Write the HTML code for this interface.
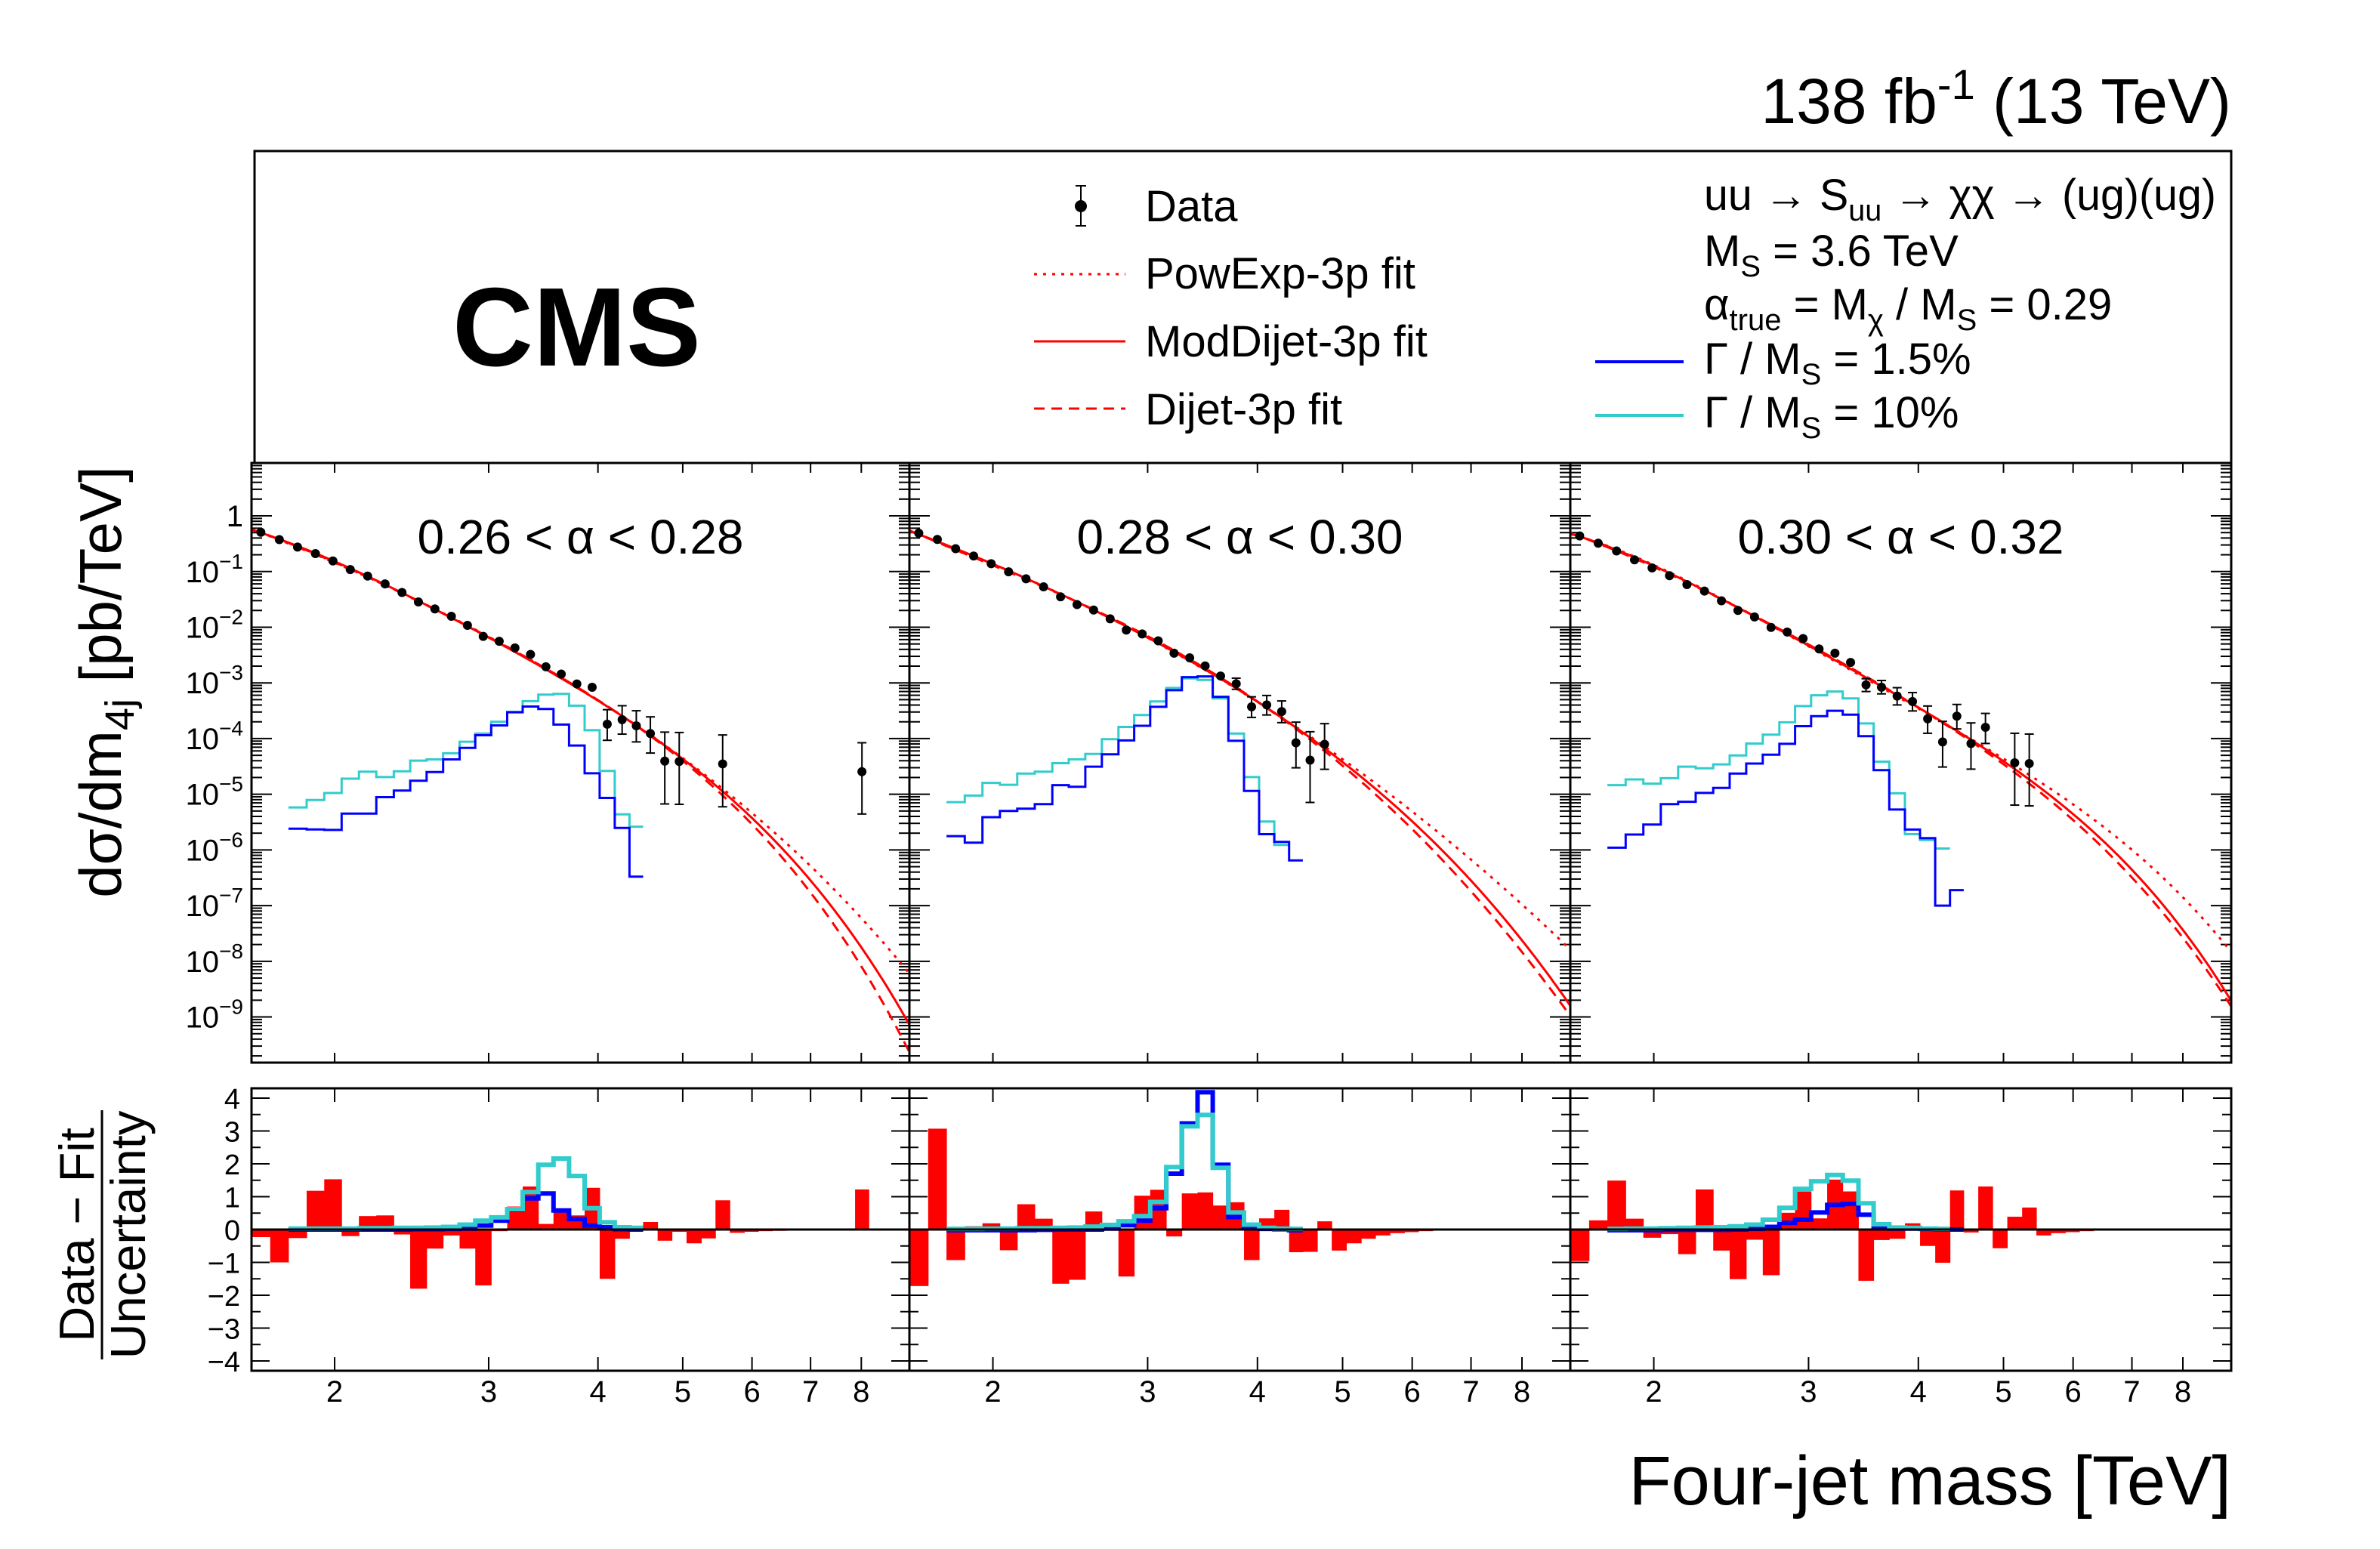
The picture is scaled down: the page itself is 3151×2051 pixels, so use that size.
<!DOCTYPE html>
<html><head><meta charset="utf-8"><style>
html,body{margin:0;padding:0;background:#fff;}
svg{display:block;font-family:"Liberation Sans",Arial,sans-serif;}
</style></head><body>
<svg id="chart" xmlns="http://www.w3.org/2000/svg" width="3151" height="2051" viewBox="0 0 3151 2051">
<rect x="0" y="0" width="3151" height="2051" fill="#fff"/>
<text x="2954" y="163" font-size="84" text-anchor="end">138 fb<tspan dy="-32" font-size="56">-1</tspan><tspan dy="32"> (13 TeV)</tspan></text>
<rect x="337" y="200" width="2617" height="413" fill="none" stroke="#000" stroke-width="3"/>
<text x="599" y="484" font-size="148" font-weight="bold">CMS</text>
<g>
<line x1="1431" y1="246" x2="1431" y2="299" stroke="#000" stroke-width="2"/>
<line x1="1424" y1="246" x2="1438" y2="246" stroke="#000" stroke-width="2"/>
<line x1="1424" y1="299" x2="1438" y2="299" stroke="#000" stroke-width="2"/>
<circle cx="1431" cy="273" r="8" fill="#000"/>
<text x="1516" y="293" font-size="58">Data</text></g>
<g>
<line x1="1369" y1="363" x2="1490" y2="363" stroke="#f00" stroke-width="3" stroke-dasharray="4 8"/>
<text x="1516" y="382" font-size="58">PowExp-3p fit</text></g>
<g>
<line x1="1369" y1="452" x2="1490" y2="452" stroke="#f00" stroke-width="3"/>
<text x="1516" y="472" font-size="58">ModDijet-3p fit</text></g>
<g>
<line x1="1369" y1="541" x2="1490" y2="541" stroke="#f00" stroke-width="3" stroke-dasharray="14 9"/>
<text x="1516" y="562" font-size="58">Dijet-3p fit</text></g>
<text x="2256" y="278" font-size="58" textLength="678" lengthAdjust="spacingAndGlyphs">uu → S<tspan dy="14" font-size="40">uu</tspan><tspan dy="-14"> → χχ → (ug)(ug)</tspan></text>
<text x="2256" y="352" font-size="58">M<tspan dy="14" font-size="40">S</tspan><tspan dy="-14"> = 3.6 TeV</tspan></text>
<text x="2256" y="423" font-size="58">α<tspan dy="14" font-size="40">true</tspan><tspan dy="-14"> = M</tspan><tspan dy="14" font-size="40">χ</tspan><tspan dy="-14"> / M</tspan><tspan dy="14" font-size="40">S</tspan><tspan dy="-14"> = 0.29</tspan></text>
<g>
<line x1="2112" y1="479" x2="2229" y2="479" stroke="#00f" stroke-width="4"/>
<text x="2256" y="495" font-size="58">Γ / M<tspan dy="14" font-size="40">S</tspan><tspan dy="-14"> = 1.5%</tspan></text></g>
<g>
<line x1="2112" y1="550" x2="2229" y2="550" stroke="#33cccc" stroke-width="4"/>
<text x="2256" y="566" font-size="58">Γ / M<tspan dy="14" font-size="40">S</tspan><tspan dy="-14"> = 10%</tspan></text></g>
<text transform="translate(160,903) rotate(-90)" font-size="78" text-anchor="middle">dσ/dm<tspan dy="17" font-size="54">4j</tspan><tspan dy="-17"> [pb/TeV]</tspan></text>
<g transform="translate(0,1635) rotate(-90)">
<text x="0" y="124" font-size="65" text-anchor="middle">Data − Fit</text>
<line x1="-165" y1="135" x2="165" y2="135" stroke="#000" stroke-width="3"/>
<text x="0" y="192" font-size="65" text-anchor="middle">Uncertainty</text></g>
<text x="2954" y="1992" font-size="92" text-anchor="end">Four-jet mass [TeV]</text>
<g id="plots"></g>
</svg>
<script>
const XMIN = 1.607, XMAX = 9.08, YMIN = -9.82, YMAX = 0.95;
const panelX = [[333,1204],[1204,2079],[2079,2954]];
const upTop = 613, upBot = 1407, loTop = 1441, loBot = 1815, loZero = 1628, loUnit = 43.5;
const alphaLabels = ["0.26 < α < 0.28", "0.28 < α < 0.30", "0.30 < α < 0.32"];
const xTickVals = [2,3,4,5,6,7,8];
const ratioTicks = [4,3,2,1,0,-1,-2,-3,-4];
const binEdges = [1.607,1.688,1.771,1.858,1.946,2.037,2.132,2.232,2.337,2.440,2.548,2.661,2.779,2.896,3.020,3.150,3.281,3.419,3.558,3.707,3.862,4.018,4.181,4.346,4.505,4.68,4.86,5.05,5.25,5.45,5.66,5.88,6.10,6.33,6.57,6.82,7.07,7.33,7.60,7.87,8.16,8.46,8.77,9.08];
const sigStart = 2;
const data1 = [-0.295,-0.427,-0.560,-0.677,-0.810,-0.965,-1.082,-1.222,-1.377,-1.546,-1.672,-1.804,-1.966,-2.165,-2.253,-2.371,-2.489,-2.710,-2.842,-3.019,-3.078,-3.741,-3.660,-3.770,-3.910,-4.404,-4.411,null,null,-4.455,null,null,null,null,null,null,null,null,null,-4.595,null,null,null];
const errUp1 = [0.01,0.01,0.01,0.01,0.01,0.01,0.01,0.01,0.01,0.02,0.02,0.02,0.02,0.03,0.03,0.03,0.04,0.05,0.06,0.07,0.08,0.26,0.25,0.27,0.30,0.52,0.52,0,0,0.52,0,0,0,0,0,0,0,0,0,0.52,0,0,0];
const errDn1 = [0.01,0.01,0.01,0.01,0.01,0.01,0.01,0.01,0.01,0.02,0.02,0.02,0.02,0.03,0.03,0.03,0.04,0.05,0.06,0.07,0.08,0.29,0.26,0.29,0.35,0.77,0.77,0,0,0.77,0,0,0,0,0,0,0,0,0,0.76,0,0,0];
const data2 = [-0.312,-0.423,-0.589,-0.721,-0.859,-1.005,-1.130,-1.275,-1.455,-1.594,-1.691,-1.850,-2.051,-2.121,-2.245,-2.467,-2.550,-2.696,-2.876,-3.015,-3.430,-3.396,-3.514,-4.075,-4.387,-4.102,null,null,null,null,null,null,null,null,null,null,null,null,null,null,null,null,null];
const errUp2 = [0.01,0.01,0.01,0.01,0.01,0.01,0.01,0.01,0.01,0.02,0.02,0.02,0.02,0.03,0.03,0.03,0.04,0.05,0.06,0.10,0.18,0.17,0.19,0.37,0.51,0.37,0,0,0,0,0,0,0,0,0,0,0,0,0,0,0,0,0];
const errDn2 = [0.01,0.01,0.01,0.01,0.01,0.01,0.01,0.01,0.01,0.02,0.02,0.02,0.02,0.03,0.03,0.03,0.04,0.05,0.06,0.10,0.19,0.18,0.20,0.45,0.76,0.45,0,0,0,0,0,0,0,0,0,0,0,0,0,0,0,0,0];
const data3 = [-0.360,-0.492,-0.631,-0.790,-0.936,-1.074,-1.234,-1.351,-1.525,-1.698,-1.816,-2.003,-2.086,-2.204,-2.391,-2.467,-2.633,-3.035,-3.077,-3.236,-3.334,-3.645,-4.061,-3.597,-4.089,-3.798,null,-4.435,-4.449,null,null,null,null,null,null,null,null,null,null,null,null,null,null];
const errUp3 = [0.01,0.01,0.01,0.01,0.01,0.01,0.01,0.01,0.01,0.02,0.02,0.02,0.02,0.03,0.03,0.04,0.05,0.11,0.12,0.15,0.16,0.23,0.37,0.21,0.37,0.25,0,0.53,0.53,0,0,0,0,0,0,0,0,0,0,0,0,0,0];
const errDn3 = [0.01,0.01,0.01,0.01,0.01,0.01,0.01,0.01,0.01,0.02,0.02,0.02,0.02,0.03,0.03,0.04,0.05,0.12,0.12,0.16,0.17,0.26,0.45,0.23,0.46,0.29,0,0.76,0.76,0,0,0,0,0,0,0,0,0,0,0,0,0,0];
const sigNarrow1 = [-5.619,-5.633,-5.641,-5.346,-5.346,-5.052,-4.934,-4.757,-4.602,-4.374,-4.168,-3.940,-3.763,-3.527,-3.424,-3.468,-3.748,-4.124,-4.624,-5.066,-5.604,-6.480];
const sigWide1 = [-5.236,-5.103,-4.978,-4.720,-4.595,-4.691,-4.588,-4.396,-4.374,-4.264,-4.057,-3.910,-3.697,-3.520,-3.328,-3.211,-3.196,-3.409,-3.851,-4.580,-5.361,-5.582];
const sigNarrow2 = [-5.752,-5.870,-5.412,-5.301,-5.260,-5.177,-4.837,-4.865,-4.504,-4.283,-4.033,-3.770,-3.430,-3.132,-2.897,-2.883,-3.250,-4.040,-4.941,-5.717,-5.856,-6.188];
const sigWide2 = [-5.142,-5.024,-4.796,-4.830,-4.629,-4.595,-4.442,-4.373,-4.276,-4.012,-3.791,-3.576,-3.334,-3.091,-2.918,-2.945,-3.278,-3.909,-4.692,-5.489,-5.911,null];
const sigNarrow3 = [-5.960,-5.724,-5.544,-5.177,-5.135,-4.976,-4.886,-4.629,-4.449,-4.290,-4.095,-3.777,-3.597,-3.500,-3.569,-3.957,-4.567,-5.274,-5.634,-5.787,-7.0,-6.722];
const sigWide3 = [-4.837,-4.733,-4.809,-4.712,-4.504,-4.532,-4.463,-4.304,-4.089,-3.929,-3.708,-3.417,-3.223,-3.154,-3.278,-3.728,-4.414,-4.983,-5.717,-5.821,-5.974,null];
const fitM1 = [1.607,2.0,2.5,3.0,3.5,4.0,4.6,4.97,5.56,6.39,7.21,8.13,9.08];
const fitSolid1 = [-0.25,-0.81,-1.56,-2.2,-2.74,-3.28,-3.92,-4.41,-4.99,-5.85,-6.74,-7.92,-9.15];
const fitDot1 = [-0.25,-0.81,-1.56,-2.2,-2.74,-3.28,-3.91,-4.38,-4.92,-5.70,-6.44,-7.40,-8.20];
const fitDash1 = [-0.25,-0.81,-1.56,-2.2,-2.74,-3.28,-3.93,-4.44,-5.03,-6.00,-6.96,-8.36,-9.60];
const fitM2 = [1.607,2.0,2.49,3.12,3.90,4.86,6.08,7.60,9.08];
const fitSolid2 = [-0.27,-0.85,-1.59,-2.32,-3.15,-4.30,-5.68,-7.07,-8.84];
const fitDot2 = [-0.27,-0.85,-1.59,-2.32,-3.15,-4.28,-5.47,-6.55,-7.83];
const fitDash2 = [-0.27,-0.85,-1.59,-2.32,-3.15,-4.32,-5.82,-7.31,-9.01];
const fitM3 = [1.607,2.0,2.49,3.12,3.90,4.86,6.08,7.60,8.79,9.08];
const fitSolid3 = [-0.30,-0.956,-1.615,-2.43,-3.36,-4.33,-5.41,-6.96,-8.39,-8.70];
const fitDot3 = [-0.30,-0.956,-1.615,-2.43,-3.36,-4.31,-5.27,-6.41,-7.59,-7.85];
const fitDash3 = [-0.30,-0.956,-1.615,-2.43,-3.36,-4.35,-5.51,-7.14,-8.49,-8.80];
const resid1 = [-0.23,-1.0,-0.26,1.18,1.53,-0.2,0.41,0.43,-0.15,-1.8,-0.58,-0.18,-0.58,-1.7,-0.05,0.7,1.31,0.17,0.55,0.43,1.27,-1.5,-0.28,-0.03,0.23,-0.34,-0.07,-0.42,-0.27,0.89,-0.1,-0.07,-0.05,-0.04,-0.03,-0.02,-0.02,-0.01,-0.01,1.22,0,0,0];
const resid2 = [-1.72,3.07,-0.93,0.1,0.19,-0.63,0.77,0.33,-1.65,-1.53,0.55,-0.02,-1.43,1.03,1.21,-0.21,1.10,1.13,0.73,0.83,-0.93,0.34,0.6,-0.69,-0.68,0.25,-0.64,-0.42,-0.28,-0.18,-0.11,-0.08,-0.05,-0.03,-0.02,-0.01,-0.01,-0.01,0,0,0,0,0];
const resid3 = [-0.96,0.28,1.49,0.33,-0.25,-0.14,-0.75,1.22,-0.64,-1.51,-0.31,-1.39,0.51,1.16,0.34,1.52,1.16,-1.56,-0.32,-0.28,0.19,-0.5,-1.01,1.19,-0.09,1.31,-0.57,0.39,0.67,-0.18,-0.11,-0.08,-0.05,-0.03,-0.02,-0.01,-0.01,0,0,0,0,0,0];
const rNarrow1 = [0,0,0,0,0,0,0,0.01,0.01,0.02,0.03,0.12,0.27,0.6,0.95,1.1,0.58,0.32,0.12,0.07,0.01,0];
const rWide1 = [0.03,0.03,0.03,0.03,0.04,0.04,0.05,0.05,0.06,0.08,0.15,0.27,0.37,0.62,1.14,1.97,2.16,1.63,0.65,0.22,0.07,0.05];
const rNarrow2 = [-0.02,-0.02,-0.02,-0.02,-0.02,-0.01,0,0,0,0.03,0.13,0.27,0.65,1.7,3.23,4.18,1.97,0.38,0.05,0.02,0.01,-0.02];
const rWide2 = [0.02,0.02,0.03,0.03,0.04,0.04,0.05,0.06,0.09,0.14,0.25,0.41,0.84,1.9,3.14,3.49,1.88,0.52,0.15,0.05,0.03,0.02];
const rNarrow3 = [-0.02,-0.02,-0.02,-0.01,-0.01,-0.01,-0.01,0,0.02,0.08,0.2,0.3,0.52,0.75,0.78,0.45,0.09,0.03,0.03,0.02,0,0];
const rWide3 = [0.02,0.03,0.03,0.04,0.05,0.06,0.07,0.1,0.15,0.3,0.66,1.24,1.47,1.66,1.49,0.8,0.16,0.06,0.05,0.03,0.02,null];

const panels = [
 {data:data1, eu:errUp1, ed:errDn1, sn:sigNarrow1, sw:sigWide1, fm:fitM1, fs:fitSolid1, fd:fitDot1, fa:fitDash1, r:resid1, rn:rNarrow1, rw:rWide1},
 {data:data2, eu:errUp2, ed:errDn2, sn:sigNarrow2, sw:sigWide2, fm:fitM2, fs:fitSolid2, fd:fitDot2, fa:fitDash2, r:resid2, rn:rNarrow2, rw:rWide2},
 {data:data3, eu:errUp3, ed:errDn3, sn:sigNarrow3, sw:sigWide3, fm:fitM3, fs:fitSolid3, fd:fitDot3, fa:fitDash3, r:resid3, rn:rNarrow3, rw:rWide3}
];
const NS = "http://www.w3.org/2000/svg";
const root = document.getElementById('plots');
function mk(tag, parent){ const e = document.createElementNS(NS, tag); parent.appendChild(e); return e; }
function at(e, o){ for (const k in o) e.setAttribute(k, o[k]); return e; }
function xs(p, m){ const a = panelX[p][0], b = panelX[p][1]; return a + (Math.log(m) - Math.log(XMIN)) / (Math.log(XMAX) - Math.log(XMIN)) * (b - a); }
function yu(lg){ return upBot - (lg - YMIN) / (YMAX - YMIN) * (upBot - upTop); }
function yl(v){ return loZero - v * loUnit; }
// least-squares polynomial (in ln m) through the read fit samples -> smooth curve
function polyFit(xv, yv, deg){
  const n = deg + 1, A = [], b = [];
  for (let i = 0; i < n; i++){ A.push(new Array(n).fill(0)); b.push(0); }
  xv.forEach((x, k) => {
    for (let i = 0; i < n; i++){
      b[i] += yv[k] * Math.pow(x, i);
      for (let j = 0; j < n; j++) A[i][j] += Math.pow(x, i + j);
    }
  });
  for (let i = 0; i < n; i++){
    let piv = i;
    for (let r = i + 1; r < n; r++) if (Math.abs(A[r][i]) > Math.abs(A[piv][i])) piv = r;
    [A[i], A[piv]] = [A[piv], A[i]]; [b[i], b[piv]] = [b[piv], b[i]];
    for (let r = 0; r < n; r++){
      if (r === i) continue;
      const f = A[r][i] / A[i][i];
      for (let c = i; c < n; c++) A[r][c] -= f * A[i][c];
      b[r] -= f * b[i];
    }
  }
  return b.map((v, i) => v / A[i][i]);
}
function stepPath(p, vals, start, yf){
  let d = "", open = false;
  for (let i = 0; i < vals.length; i++){
    const v = vals[i];
    if (v === null){ open = false; continue; }
    const x0 = xs(p, binEdges[start+i]), x1 = xs(p, binEdges[start+i+1]), y = yf(v);
    if (!open){ d += "M" + x0.toFixed(1) + "," + y.toFixed(1); open = true; }
    else d += " V" + y.toFixed(1);
    d += " H" + x1.toFixed(1);
  }
  return d;
}
const defs = mk('defs', document.getElementById('chart'));
panels.forEach((P, p) => {
  const L = panelX[p][0], R = panelX[p][1];
  const g = mk('g', root);
  
  
  const cp = at(mk('clipPath', defs), {id: 'clipU' + p});
  at(mk('rect', cp), {x: L, y: upTop, width: R - L, height: upBot - upTop});
  const cl = at(mk('clipPath', defs), {id: 'clipL' + p});
  at(mk('rect', cl), {x: L, y: loTop, width: R - L, height: loBot - loTop});
  const tk = mk('g', g);
  
  
  for (let k = -10; k <= 0; k++){
    for (let j = 1; j <= 9; j++){
      const lg = k + Math.log10(j);
      if (lg < YMIN || lg > YMAX) continue;
      const len = j === 1 ? 27 : 14, y = yu(lg);
      at(mk('line', tk), {x1: L, x2: L + len, y1: y, y2: y, stroke: '#000', 'stroke-width': 2});
      at(mk('line', tk), {x1: R, x2: R - len, y1: y, y2: y, stroke: '#000', 'stroke-width': 2});
    }
  }
  xTickVals.forEach(m => {
    const x = xs(p, m);
    at(mk('line', tk), {x1: x, x2: x, y1: upBot, y2: upBot - 13, stroke: '#000', 'stroke-width': 2});
    at(mk('line', tk), {x1: x, x2: x, y1: upTop, y2: upTop + 13, stroke: '#000', 'stroke-width': 2});
    at(mk('line', tk), {x1: x, x2: x, y1: loBot, y2: loBot - 18, stroke: '#000', 'stroke-width': 2});
    at(mk('line', tk), {x1: x, x2: x, y1: loTop, y2: loTop + 18, stroke: '#000', 'stroke-width': 2});
    const t = at(mk('text', tk), {x: x, y: 1856, 'font-size': 40, 'text-anchor': 'middle'});
    
    
    t.textContent = m;
  });
  for (let v = -4; v <= 4; v += 0.5){
    const len = Number.isInteger(v) ? 24 : 12, y = yl(v);
    at(mk('line', tk), {x1: L, x2: L + len, y1: y, y2: y, stroke: '#000', 'stroke-width': 2});
    at(mk('line', tk), {x1: R, x2: R - len, y1: y, y2: y, stroke: '#000', 'stroke-width': 2});
  }
  if (p === 0){
    for (let k = -9; k <= 0; k++){
      const t = at(mk('text', tk), {x: 322, y: yu(k) + 14, 'font-size': 40, 'text-anchor': 'end'});
      
      
      if (k === 0) t.textContent = '1';
      else {
        t.appendChild(document.createTextNode('10'));
        const s = at(mk('tspan', t), {dy: -18, 'font-size': 28});
        s.textContent = '−' + (-k);
      }
    }
    ratioTicks.forEach(v => {
      const t = at(mk('text', tk), {x: 318, y: yl(v) + 14, 'font-size': 38, 'text-anchor': 'end'});
      
      
      t.textContent = v < 0 ? '−' + (-v) : String(v);
    });
  }
  const up = at(mk('g', g), {'clip-path': 'url(#clipU' + p + ')'});
  const hw = at(mk('path', up), {d: stepPath(p, P.sw, sigStart, yu), fill: 'none', stroke: '#33cccc', 'stroke-width': 3});
  
  
  const hn = at(mk('path', up), {d: stepPath(p, P.sn, sigStart, yu), fill: 'none', stroke: '#0000ff', 'stroke-width': 3});
  
  
  const mkFit = (vals, dash, name) => {
    const lx = P.fm.map(m => Math.log(m));
    const c = polyFit(lx, vals, 4);
    let d = "";
    const N = 200;
    for (let i = 0; i <= N; i++){
      const l = Math.log(XMIN) + (Math.log(XMAX) - Math.log(XMIN)) * i / N;
      let v = 0;
      for (let k = c.length - 1; k >= 0; k--) v = v * l + c[k];
      d += (i ? " L" : "M") + xs(p, Math.exp(l)).toFixed(1) + "," + yu(v).toFixed(1);
    }
    const f = at(mk('path', up), {d: d, fill: 'none', stroke: '#ff0000', 'stroke-width': 3});
    if (dash) f.setAttribute('stroke-dasharray', dash);
    
    
  };
  mkFit(P.fd, '4 8', 'powexp-fit');
  mkFit(P.fa, '14 9', 'dijet-fit');
  mkFit(P.fs, null, 'moddijet-fit');
  P.data.forEach((v, i) => {
    if (v === null) return;
    const m = Math.sqrt(binEdges[i] * binEdges[i+1]);
    const x = xs(p, m), y = yu(v);
    const pt = mk('g', up);
    
    
    const y1 = yu(v + P.eu[i]), y2 = yu(v - P.ed[i]);
    if (y2 - y1 > 12){
      at(mk('line', pt), {x1: x, x2: x, y1: y1, y2: y2, stroke: '#000', 'stroke-width': 2});
      at(mk('line', pt), {x1: x - 6, x2: x + 6, y1: y1, y2: y1, stroke: '#000', 'stroke-width': 2});
      at(mk('line', pt), {x1: x - 6, x2: x + 6, y1: y2, y2: y2, stroke: '#000', 'stroke-width': 2});
    }
    at(mk('circle', pt), {cx: x, cy: y, r: 6, fill: '#000'});
  });
  const lab = at(mk('text', g), {x: (L + R) / 2, y: 733, 'font-size': 64, 'text-anchor': 'middle'});
  
  
  lab.textContent = alphaLabels[p];
  const lo = at(mk('g', g), {'clip-path': 'url(#clipL' + p + ')'});
  P.r.forEach((v, i) => {
    if (v === null) return;
    const x0 = xs(p, binEdges[i]), x1 = xs(p, binEdges[i+1]);
    const ya = yl(Math.max(v, 0)), yb = yl(Math.min(v, 0));
    const b = at(mk('rect', lo), {x: x0, y: ya, width: x1 - x0 + 0.5, height: Math.max(yb - ya, 0.5), fill: '#ff0000'});
    
    
  });
  const rn = at(mk('path', lo), {d: stepPath(p, P.rn, sigStart, yl), fill: 'none', stroke: '#0000ff', 'stroke-width': 6});
  
  
  const rw = at(mk('path', lo), {d: stepPath(p, P.rw, sigStart, yl), fill: 'none', stroke: '#33cccc', 'stroke-width': 6});
  
  
  const z = at(mk('line', lo), {x1: L, x2: R, y1: loZero, y2: loZero, stroke: '#000', 'stroke-width': 3});
  
  
  const fu = at(mk('rect', g), {x: L, y: upTop, width: R - L, height: upBot - upTop, fill: 'none', stroke: '#000', 'stroke-width': 3});
  
  
  const fl = at(mk('rect', g), {x: L, y: loTop, width: R - L, height: loBot - loTop, fill: 'none', stroke: '#000', 'stroke-width': 3});
  
  
});
</script>
</body></html>
